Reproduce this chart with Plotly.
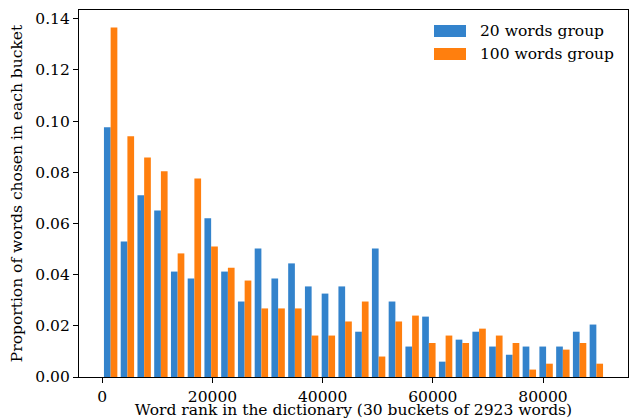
import plotly.graph_objects as go

# Bucket layout (30 buckets)
n_buckets = 30
bucket_width = 3040
bucket_centers = [(i + 0.5) * bucket_width for i in range(n_buckets)]

series_names = ["20 words group", "100 words group"]

group20 = [0.0976, 0.0530, 0.0710, 0.0651, 0.0412, 0.0385, 0.0620, 0.0412, 0.0295, 0.0502,
           0.0385, 0.0444, 0.0354, 0.0326, 0.0354, 0.0177, 0.0502, 0.0295, 0.0119, 0.0236,
           0.0060, 0.0146, 0.0177, 0.0119, 0.0087, 0.0119, 0.0119, 0.0119, 0.0177, 0.0205]

group100 = [0.1366, 0.0941, 0.0858, 0.0804, 0.0483, 0.0776, 0.0510, 0.0427, 0.0377, 0.0268,
            0.0268, 0.0268, 0.0162, 0.0162, 0.0217, 0.0295, 0.0080, 0.0217, 0.0240, 0.0133,
            0.0162, 0.0133, 0.0189, 0.0162, 0.0133, 0.0029, 0.0052, 0.0107, 0.0133, 0.0052]

x_ticks = [0, 20000, 40000, 60000, 80000]
y_ticks = [0.00, 0.02, 0.04, 0.06, 0.08, 0.10, 0.12, 0.14]

colors = ["#3383cc", "#ff7f0e"]
FONT = "DejaVu Serif"
FS = 15.5

fig = go.Figure()
for name, vals, c in zip(series_names, [group20, group100], colors):
    fig.add_trace(go.Bar(x=bucket_centers, y=vals, name=name, marker_color=c,
                         marker_line_width=0, showlegend=False))

x_min = 0.1 * bucket_width
x_max = (n_buckets - 0.1) * bucket_width
pad = 0.05 * (x_max - x_min)
y_max = max(max(group20), max(group100)) * 1.05

fnt = dict(family=FONT, size=FS, color="black")

fig.update_layout(
    width=631, height=419,
    margin=dict(l=79, r=3, t=10, b=42, autoexpand=False),
    paper_bgcolor="white", plot_bgcolor="white",
    barmode="group", bargap=0.2, bargroupgap=0,
    font=fnt,
)
fig.update_xaxes(
    range=[x_min - pad, x_max + pad], tickvals=x_ticks, tickformat="d",
    ticks="outside", ticklen=5, tickcolor="black", showgrid=False, zeroline=False,
    showline=True, linecolor="black", linewidth=1.2, mirror=True, automargin=False,
    title=dict(text="Word rank in the dictionary (30 buckets of 2923 words)", standoff=0, font=fnt),
    tickfont=fnt,
)
fig.update_yaxes(
    range=[0, y_max], tickvals=y_ticks, tickformat=".2f",
    ticks="outside", ticklen=5, tickcolor="black", showgrid=False, zeroline=False,
    showline=True, linecolor="black", linewidth=1.2, mirror=True, automargin=False,
    title=dict(text="Proportion of words chosen in each bucket", standoff=8, font=fnt),
    tickfont=fnt,
)

# Manual legend (matplotlib-style wide swatches)
legend_rows = [(25, 37), (48, 60)]
for (y0, y1), name, c in zip(legend_rows, series_names, colors):
    fig.add_shape(type="rect", xref="paper", yref="paper",
                  x0=(434 - 79) / 549, x1=(466 - 79) / 549,
                  y0=1 - (y1 - 10) / 367, y1=1 - (y0 - 10) / 367,
                  fillcolor=c, line_width=0)
    fig.add_annotation(xref="paper", yref="paper", x=(478 - 79) / 549,
                       y=1 - ((y0 + y1) / 2 - 10) / 367, text=name, showarrow=False,
                       xanchor="left", yanchor="middle", font=fnt)

fig.write_html(
    "out.html",
    config={"displayModeBar": False},
    post_script="document.documentElement.style.margin='0';document.body.style.margin='0';"
                "document.body.style.overflow='hidden';",
)
